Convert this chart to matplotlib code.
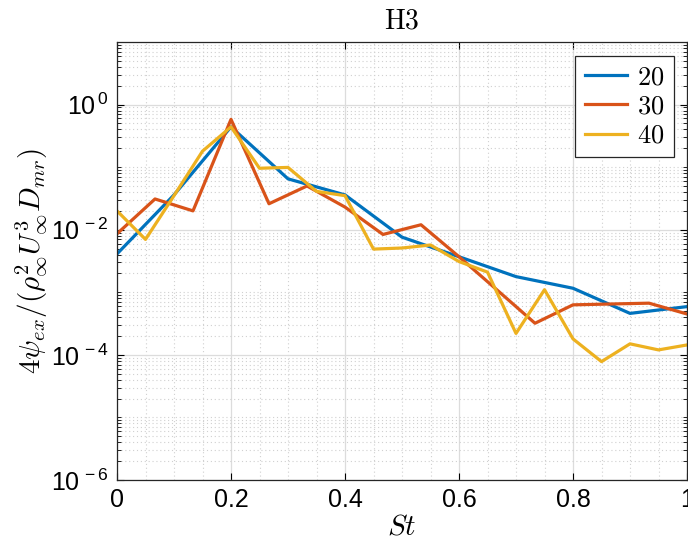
import numpy as np
import matplotlib
matplotlib.use('Agg')
import matplotlib.pyplot as plt
from matplotlib.ticker import LogLocator, FixedLocator, NullFormatter

plt.rcParams['font.family'] = ['Liberation Sans', 'DejaVu Sans']
plt.rcParams['mathtext.fontset'] = 'custom'
plt.rcParams['mathtext.rm'] = 'Liberation Sans'
plt.rcParams['mathtext.it'] = 'Liberation Sans:italic'

# St samples and spectra for the three cases
st_20 = [0.0, 0.1, 0.2, 0.3, 0.4, 0.5, 0.6, 0.7, 0.8, 0.9, 1.0]
psi_20 = [0.0041, 0.036, 0.44, 0.065, 0.036, 0.0076, 0.0037, 0.00178,
          0.00116, 0.00046, 0.00059]

st_30 = [k / 15 for k in range(16)]
psi_30 = [0.0086, 0.031, 0.020, 0.58, 0.026, 0.050, 0.023, 0.0084, 0.012,
          0.0037, 0.00109, 0.00032, 0.00063, 0.00065, 0.00067, 0.00045]

st_40 = [0.0, 0.05, 0.1, 0.15, 0.2, 0.25, 0.3, 0.35, 0.4, 0.45, 0.5, 0.55,
         0.6, 0.65, 0.7, 0.75, 0.8, 0.85, 0.9, 0.95, 1.0]
psi_40 = [0.020, 0.0070, 0.035, 0.18, 0.44, 0.096, 0.099, 0.041, 0.035,
          0.0049, 0.0051, 0.0057, 0.0031, 0.0021, 0.00022, 0.0011, 0.00018,
          0.000078, 0.00015, 0.00012, 0.000144]

labels = ['20', '30', '40']
colors = ['#0072BD', '#D95319', '#EDB120']

fig = plt.figure(figsize=(6.88, 5.54), dpi=100)
ax = fig.add_axes([117 / 688, 74 / 554, 570 / 688, 438 / 554])

for st, psi, lab, c in zip([st_20, st_30, st_40], [psi_20, psi_30, psi_40],
                           labels, colors):
    ax.plot(st, psi, color=c, lw=2.3, label='$' + lab + '$')

ax.set_yscale('log')
ax.set_xlim(0, 1)
ax.set_ylim(1e-6, 1e1)

ax.set_xticks([0, 0.2, 0.4, 0.6, 0.8, 1.0])
ax.set_xticklabels(['0', '0.2', '0.4', '0.6', '0.8', '1'])
ax.xaxis.set_minor_locator(FixedLocator(np.arange(0.05, 1.0, 0.05)))

yt = [1e-6, 1e-4, 1e-2, 1e0]
ax.yaxis.set_major_locator(FixedLocator(yt))
ax.set_yticklabels([r'$\mathregular{10^{\,%d}}$' % int(np.log10(v)) for v in yt])
ax.yaxis.set_minor_locator(LogLocator(base=10, subs=np.arange(1, 10), numticks=30))
ax.yaxis.set_minor_formatter(NullFormatter())

ax.tick_params(which='both', direction='in', top=True, right=True)
ax.tick_params(which='major', length=5, width=0.8, labelsize=18, pad=6)
ax.tick_params(which='minor', length=3, width=0.6)
ax.tick_params(axis='x', which='minor', length=0)

ax.grid(which='major', color='#dcdcdc', lw=0.9, ls='-')
ax.grid(which='minor', color='#d0d0d0', lw=0.8, ls=(0, (1, 2.5)))
ax.set_axisbelow(True)
for s in ax.spines.values():
    s.set_linewidth(0.9)
    s.set_color('#262626')

ax.set_title(r'$\mathrm{H3}$', fontsize=20, math_fontfamily='cm', pad=10)
ax.set_xlabel(r'$St$', fontsize=21, math_fontfamily='cm', labelpad=0)
ax.set_ylabel(r'$4\psi_{ex}/(\rho_\infty^2 U_\infty^3 D_{mr})$', fontsize=21,
              math_fontfamily='cm', labelpad=1)

leg = ax.legend(loc='upper right', bbox_to_anchor=(0.977, 0.968),
                prop={'size': 19, 'math_fontfamily': 'cm'},
                fancybox=False, edgecolor='#262626', framealpha=1,
                handlelength=1.6, handletextpad=0.4, borderpad=0.35,
                labelspacing=0.2, borderaxespad=0)
leg.get_frame().set_linewidth(0.9)

fig.savefig('out.png', dpi=100)
